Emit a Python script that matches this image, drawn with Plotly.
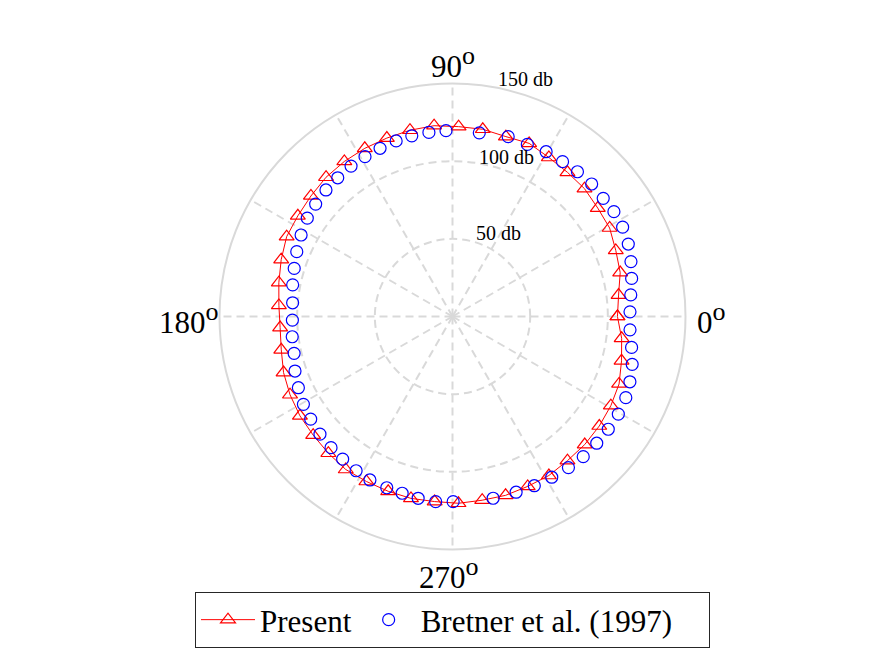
import plotly.graph_objects as go

# Present (red line with triangles): angle in degrees, level in db
present_theta = [0, 7.35, 14.69, 22.04, 29.39, 36.73, 44.08, 51.43, 58.78, 66.12,
                 73.47, 80.82, 88.16, 95.51, 102.86, 110.20, 117.55, 124.90, 132.24, 139.59,
                 146.94, 154.29, 161.63, 168.98, 176.33, 183.67, 191.02, 198.37, 205.71, 213.06,
                 220.41, 227.76, 235.10, 242.45, 249.80, 257.14, 264.49, 271.84, 279.18, 286.53,
                 293.88, 301.22, 308.57, 315.92, 323.27, 330.61, 337.96, 345.31, 352.65, 360]
present_r = [106.2, 107.8, 111.6, 113.4, 116.1, 116.7, 118.3, 118.7, 119.7, 121.9,
             120.8, 122.1, 122.3, 123.4, 123.0, 122.4, 122.1, 121.7, 121.1, 119.7,
             118.8, 118.5, 116.2, 113.9, 112.0, 111.2, 112.3, 114.6, 116.1, 117.2,
             117.8, 118.9, 120.1, 119.8, 119.9, 120.1, 119.7, 120.3, 119.8, 120.1,
             119.6, 119.7, 118.7, 118.5, 117.9, 117.0, 115.7, 112.5, 109.8, 106.2]

# Bretner et al. (1997) (blue circles)
bretner_theta = [1.5, 6.9, 12.0, 17.1, 22.4, 27.7, 33.0, 38.1, 43.6, 49.2,
                 54.6, 60.4, 66.5, 72.8, 81.7, 92.0, 97.3, 102.7, 107.8, 113.3,
                 118.7, 124.0, 129.6, 135.0, 140.6, 145.9, 151.7, 157.4, 163.1, 168.8,
                 175.1, 181.3, 187.2, 193.1, 199.1, 204.8, 210.5, 215.9, 221.6, 227.2,
                 232.4, 238.0, 243.2, 249.0, 254.1, 259.3, 264.8, 270.2, 282.6, 289.9,
                 295.8, 301.7, 307.5, 313.0, 318.7, 324.1, 329.5, 334.9, 339.8, 345.1,
                 350.2, 355.7]
bretner_r = [114.3, 115.6, 117.9, 120.2, 122.4, 123.7, 123.9, 123.3, 123.7, 123.1,
             122.3, 122.0, 120.8, 121.2, 119.5, 119.7, 119.5, 119.2, 118.7, 117.9,
             117.3, 116.8, 115.9, 115.2, 114.0, 112.9, 110.7, 108.6, 106.5, 104.9,
             103.3, 103.1, 104.0, 104.7, 107.3, 109.3, 111.4, 112.7, 114.1, 115.1,
             115.9, 117.1, 117.9, 118.1, 118.3, 119.1, 119.7, 119.2, 119.9, 120.3,
             121.0, 121.6, 122.6, 123.4, 123.6, 123.8, 123.9, 123.2, 121.7, 119.7,
             117.0, 114.6]

grid_angles = [0, 30, 60, 90, 120, 150, 180, 210, 240, 270, 300, 330]
angle_label_values = ["0", "90", "180", "270"]
radial_ticks = [50, 100, 150]
radial_labels = ["50 db", "100 db", "150 db"]

FONT = "Liberation Serif"

fig = go.Figure()
fig.add_trace(go.Scatterpolar(
    r=present_r, theta=present_theta, mode="lines+markers", name="Present",
    line=dict(color="#ff0000", width=1),
    marker=dict(symbol="triangle-up-open", size=13, color="#ff0000",
                line=dict(color="#ff0000", width=1.2)),
))
fig.add_trace(go.Scatterpolar(
    r=bretner_r, theta=bretner_theta, mode="markers",
    name="Bretner et al. (1997)&nbsp;&nbsp;&nbsp;&nbsp;",
    marker=dict(symbol="circle-open", size=12, color="#0000ff",
                line=dict(color="#0000ff", width=1.2)),
))

cx, cy, R = 452.5, 316.5, 233.0
W, H = 875, 657

fig.update_layout(
    width=W, height=H,
    margin=dict(l=0, r=0, t=0, b=0),
    paper_bgcolor="white",
    font=dict(family=FONT, color="black"),
    polar=dict(
        domain=dict(x=[(cx - R) / W, (cx + R) / W], y=[(H - cy - R) / H, (H - cy + R) / H]),
        bgcolor="white",
        radialaxis=dict(range=[0, 150], tickvals=radial_ticks, showticklabels=False,
                        ticks="", showline=False, gridcolor="#d9d9d9", gridwidth=1.5,
                        griddash="8px,5px"),
        angularaxis=dict(tickvals=grid_angles, showticklabels=False, direction="counterclockwise",
                         rotation=0, ticks="", showline=True, linecolor="#d9d9d9", linewidth=2,
                         gridcolor="#d9d9d9", gridwidth=1.5, griddash="8px,5px"),
    ),
    showlegend=True,
    legend=dict(orientation="h", x=cx / W, xanchor="center", y=1 - 620 / H, yanchor="middle",
                bordercolor="#262626", borderwidth=1, bgcolor="white",
                font=dict(family=FONT, size=31, color="black"), itemwidth=54),
)

# radial level labels
label_pos = [(498, 233), (506, 157), (525, 79)]
for (px, py), txt in zip(label_pos, radial_labels):
    fig.add_annotation(x=px / W, y=1 - py / H, xref="paper", yref="paper", text=txt,
                       showarrow=False, font=dict(family=FONT, size=20, color="black"),
                       xanchor="center", yanchor="middle")

# angular labels (degrees) placed around the outer circle
ang_pos = [(695, 318, "left"), (453, 62, "center"), (221, 318, "right"), (449, 573, "center")]
for (px, py, anc), val in zip(ang_pos, angle_label_values):
    txt = val + "<sup><span style='font-size:26px'>o</span></sup>"
    fig.add_annotation(x=px / W, y=1 - py / H, xref="paper", yref="paper", text=txt,
                       showarrow=False, font=dict(family=FONT, size=31, color="black"),
                       xanchor=anc, yanchor="middle")

fig.write_html("out.html")
